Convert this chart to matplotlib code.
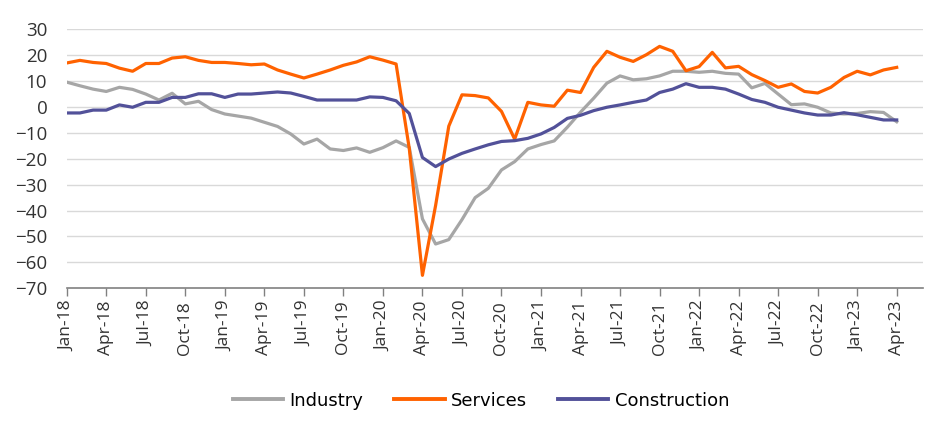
import numpy as np
import pandas as pd
import matplotlib
matplotlib.use("Agg")
import matplotlib.pyplot as plt

# monthly balances, Jan-18 .. Apr-23
months = pd.date_range("2018-01-01", "2023-04-01", freq="MS")

industry = [9.6, 8.2, 6.9, 6.0, 7.6, 6.8, 5.0, 2.7, 5.3, 1.2, 2.2, -1.0,
            -2.7, -3.5, -4.3, -5.9, -7.5, -10.4, -14.3, -12.4, -16.2, -16.8, -15.8, -17.5,
            -15.7, -13.1, -15.6, -43.2, -52.9, -51.2, -43.5, -35.0, -31.4, -24.3, -21.1, -16.2,
            -14.5, -13.1, -7.8, -2.0, 3.4, 9.2, 12.0, 10.5, 10.9, 12.0, 13.8, 13.8,
            13.4, 13.8, 13.0, 12.7, 7.4, 9.1, 5.0, 0.9, 1.2, -0.1, -2.3, -2.7,
            -2.5, -1.8, -2.1, -5.7]

services = [17.0, 18.0, 17.2, 16.8, 15.0, 13.8, 16.8, 16.8, 18.9, 19.4, 18.0, 17.2,
            17.2, 16.8, 16.3, 16.6, 14.3, 12.7, 11.2, 12.7, 14.3, 16.1, 17.4, 19.4,
            18.1, 16.6, -16.0, -65.0, -38.0, -7.4, 4.7, 4.4, 3.5, -1.7, -12.4, 1.8,
            0.8, 0.3, 6.5, 5.6, 15.3, 21.5, 19.2, 17.6, 20.2, 23.4, 21.5, 14.0,
            15.6, 21.1, 15.1, 15.7, 12.5, 10.2, 7.6, 8.9, 6.0, 5.4, 7.6, 11.4,
            13.8, 12.4, 14.3, 15.3]

construction = [-2.3, -2.3, -1.2, -1.2, 0.8, -0.1, 1.8, 1.8, 3.7, 3.7, 5.1, 5.1,
                3.7, 5.0, 5.0, 5.4, 5.8, 5.4, 4.1, 2.7, 2.7, 2.7, 2.7, 3.9,
                3.7, 2.4, -2.5, -19.5, -23.0, -20.1, -17.9, -16.2, -14.6, -13.3, -13.0, -12.1,
                -10.4, -7.9, -4.4, -3.2, -1.4, -0.1, 0.8, 1.8, 2.7, 5.6, 6.9, 9.0,
                7.6, 7.6, 6.9, 5.0, 2.9, 1.8, -0.1, -1.2, -2.3, -3.1, -3.1, -2.2,
                -3.0, -4.0, -5.0, -5.0]

tick_labels = [m.strftime("%b-%y") for m in months[::3]]
yticks = list(range(-70, 31, 10))

x = np.arange(len(months))

fig = plt.figure(figsize=(9.52, 4.38), dpi=100)
ax = fig.add_axes([0.0701, 0.3418, 0.8995, 0.5913])

ax.plot(x, industry, color="#A6A6A6", lw=2.3, label="Industry", solid_joinstyle="round")
ax.plot(x, services, color="#FF6200", lw=2.3, label="Services", solid_joinstyle="round")
ax.plot(x, construction, color="#525199", lw=2.3, label="Construction", solid_joinstyle="round")

ax.set_xlim(0, 65)
ax.set_ylim(-70, 30)
ax.set_yticks(yticks)
ax.set_xticks(x[::3])
ax.set_xticklabels(tick_labels, rotation=90)

for v in yticks[1:]:
    ax.axhline(v, color="#D9D9D9", lw=1, zorder=0)

for s in ["top", "right", "left"]:
    ax.spines[s].set_visible(False)
ax.spines["bottom"].set_color("#808080")
ax.spines["bottom"].set_linewidth(1.2)

ax.tick_params(axis="y", length=0, pad=14, labelsize=13.5, labelcolor="#333333")
ax.tick_params(axis="x", length=6, width=1, color="#808080", pad=3,
               labelsize=12.5, labelcolor="#333333")
for lab in ax.get_yticklabels() + ax.get_xticklabels():
    lab.set_family(["Open Sans", "DejaVu Sans"])

leg = fig.legend(loc="center", bbox_to_anchor=(0.505, 0.085), ncol=3, frameon=False,
                 handlelength=2.8, handletextpad=0.35, columnspacing=1.7,
                 prop={"family": "DejaVu Sans", "size": 13})
for line in leg.get_lines():
    line.set_linewidth(2.8)

fig.savefig("out.png", dpi=100)
